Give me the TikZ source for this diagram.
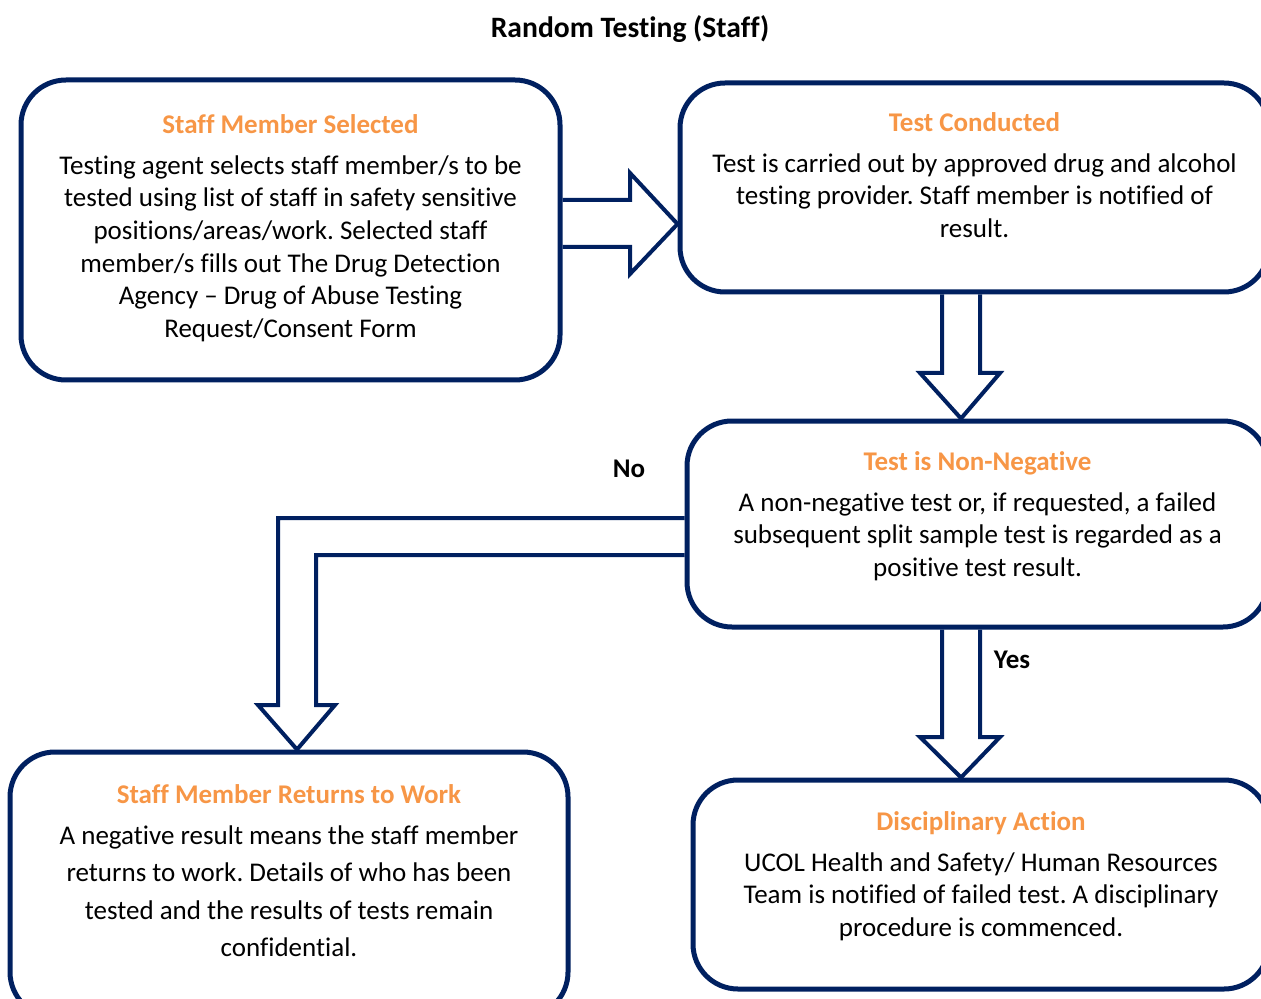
\documentclass[tikz,border=0pt]{standalone}
\usepackage{fontspec}
\setmainfont{Carlito}[Ligatures=CommonOff]
\usetikzlibrary{positioning}
\definecolor{navy}{HTML}{002060}
\definecolor{heading}{HTML}{F79646}
\frenchspacing

\begin{document}
\begin{tikzpicture}[
    x=0.5pt, y=-0.5pt,
    every node/.style={font=\fontsize{13.5}{16.3}\selectfont, align=center, inner sep=0pt},
    box/.style={draw=navy, line width=2.5pt, rounded corners=22.5pt},
    body/.style={anchor=north, text=black},
    blockarrow/.style={draw=navy, line width=2pt, line join=miter},
    tag/.style={font=\fontsize{13.5}{16}\selectfont\bfseries}
]
\useasboundingbox (0,0) rectangle (1261,999);
\clip (0,0) rectangle (1261,999);

\node[font=\fontsize{14.8}{17}\selectfont\bfseries] (title) at (630,29) {Random Testing (Staff)};

% boxes
\node[box, minimum width=269.5pt, minimum height=150pt] (sel) at (290.5,230) {};
\node[box, minimum width=294.5pt, minimum height=104.5pt] (test) at (974.5,187.5) {};
\node[box, minimum width=290.5pt, minimum height=103pt] (nonneg) at (977.5,524) {};
\node[box, minimum width=279pt, minimum height=132.5pt] (ret) at (289,884.5) {};
\node[box, minimum width=288pt, minimum height=104.5pt] (disc) at (981,884.5) {};

\node[body] (seltxt) at ([yshift=-18.2pt]sel.north) {\textcolor{heading}{\bfseries Staff Member Selected}\\[4.2pt]
Testing agent selects staff member/s to be\\ tested using list of staff in safety sensitive\\
positions/areas/work. Selected staff\\ member/s fills out The Drug Detection\\
Agency -- Drug of Abuse Testing\\ Request/Consent Form};
\node[body] (testtxt) at ([yshift=-15.7pt]test.north) {\textcolor{heading}{\bfseries Test Conducted}\\[4.2pt]
Test is carried out by approved drug and alcohol\\ testing provider. Staff member is notified of\\ result.};
\node[body] (nonnegtxt) at ([yshift=-16.2pt]nonneg.north) {\textcolor{heading}{\bfseries Test is Non-Negative}\\[4.2pt]
A non-negative test or, if requested, a failed\\ subsequent split sample test is regarded as a\\ positive test result.};
\node[body, font=\fontsize{13.5}{18.75}\selectfont] (rettxt) at ([yshift=-17.2pt]ret.north) {\textcolor{heading}{\bfseries Staff Member Returns to Work}\\[1.75pt]
A negative result means the staff member\\ returns to work. Details of who has been\\
tested and the results of tests remain\\ confidential.};
\node[body] (disctxt) at ([yshift=-16.7pt]disc.north) {\textcolor{heading}{\bfseries Disciplinary Action}\\[4.2pt]
UCOL Health and Safety/ Human Resources\\ Team is notified of failed test. A disciplinary\\ procedure is commenced.};

% block arrows
\draw[blockarrow] (sel.east |- 0,200) -- (630,200) -- (630,173) -- (test.west |- 0,224)
  -- (630,274) -- (630,247) -- (sel.east |- 0,247);
\draw[blockarrow] (test.south -| 942,0) -- (942,373) -- (920,373) -- (nonneg.north -| 961,0)
  -- (1000,373) -- (980,373) -- (test.south -| 980,0);
\draw[blockarrow] (nonneg.south -| 942,0) -- (942,737) -- (920,737) -- (disc.north -| 961,0)
  -- (1000,737) -- (980,737) -- (nonneg.south -| 980,0);
\draw[blockarrow] (nonneg.west |- 0,518) -- (278,518) -- (278,705) -- (258,705) -- (ret.north -| 297,0)
  -- (335,705) -- (316,705) -- (316,555) -- (nonneg.west |- 0,555);

\node[tag] (no) at (629,469) {No};
\node[tag] (yes) at (1012,660) {Yes};
\end{tikzpicture}
\end{document}
